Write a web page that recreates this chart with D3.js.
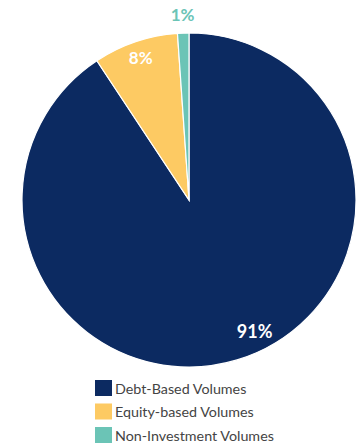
<!DOCTYPE html>
<html><head><meta charset="utf-8">
<script src="https://cdn.jsdelivr.net/npm/d3@7"></script>
<style>body{margin:0;background:#fff;}svg{display:block;}</style>
</head><body>
<svg id="c" width="358" height="445"></svg>
<script>
const categories = ["Debt-Based Volumes", "Equity-based Volumes", "Non-Investment Volumes"];
const values = [90.7, 8.2, 1.1];
const labels = ["91%", "8%", "1%"];
const colors = ["#0c2a61", "#fdca63", "#6bc4b6"];

const svg = d3.select("#c");
const cx = 189, cy = 200, r = 167;
const pie = d3.pie().sort(null).value(d => d)(values);
const arc = d3.arc().innerRadius(0).outerRadius(r);
const g = svg.append("g").attr("transform", `translate(${cx},${cy})`);
g.selectAll("path").data(pie).join("path")
  .attr("d", arc).attr("fill", (d, i) => colors[i])
  .attr("stroke", "#fff").attr("stroke-width", 1.2);

// label placement: radius factor and fraction along the slice
const labelR = [0.88, 0.9, 1.11];
const labelF = [0.47, 0.5, 0.5];
const labelSize = [18, 17, 17];
g.selectAll("text.lbl").data(pie).join("text").attr("class", "lbl")
  .attr("transform", (d, i) => {
    const a = d.startAngle + (d.endAngle - d.startAngle) * labelF[i];
    const rr = r * labelR[i];
    return `translate(${rr * Math.sin(a)},${-rr * Math.cos(a)})`;
  })
  .attr("text-anchor", "middle").attr("dy", "0.35em")
  .attr("font-family", "Lato, sans-serif").attr("font-weight", "bold")
  .attr("font-size", (d, i) => labelSize[i])
  .attr("fill", (d, i) => i === 2 ? colors[2] : "#fff")
  .text((d, i) => labels[i]);

const lg = svg.append("g").attr("transform", "translate(95,380)");
categories.forEach((c, i) => {
  const row = lg.append("g").attr("transform", `translate(0,${i * 23.5})`);
  row.append("rect").attr("width", 17).attr("height", 16).attr("fill", colors[i]);
  row.append("text").attr("x", 20).attr("y", 8.5).attr("dy", "0.35em")
    .attr("font-family", "Lato, sans-serif").attr("font-size", 14.3)
    .attr("fill", "#444").text(c);
});
</script>
</body></html>
